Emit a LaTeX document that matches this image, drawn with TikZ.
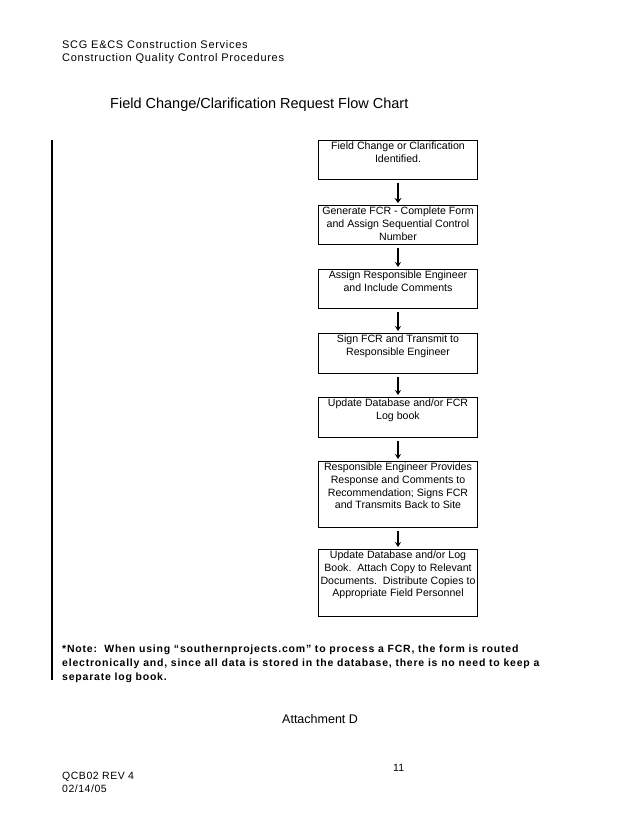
\documentclass[tikz,border=0pt]{standalone}
\usepackage{fontspec}
\setmainfont{Liberation Sans}
\usetikzlibrary{arrows.meta}
\tikzset{
  flowbox/.style={draw, line width=1pt, inner sep=0pt, anchor=north west, font=\fontsize{10.6}{12.8}\selectfont},
  txt/.style={anchor=base west, inner sep=0pt},
  headfont/.style={font=\fontsize{11}{13}\selectfont\addfontfeatures{LetterSpace=6.5}},
  notefont/.style={font=\fontsize{10.5}{14}\selectfont\bfseries\addfontfeatures{LetterSpace=7.5}},
  footfont/.style={font=\fontsize{10.5}{13}\selectfont\addfontfeatures{LetterSpace=5}},
  flowarrow/.style={line width=1.8pt, -{Stealth[length=5pt,width=6pt]}, shorten <=3pt, shorten >=2pt},
  thickarrow/.style={line width=2.6pt, -{Stealth[length=5pt,width=7pt]}, shorten <=3pt, shorten >=2pt}
}
\newcommand{\boxtext}[2]{\parbox[c][#1][t]{159pt}{\centering\strut #2}}
\begin{document}
\begin{tikzpicture}[x=1pt,y=-1pt]
\useasboundingbox (0,0) rectangle (638,826);
\fill[white] (0,0) rectangle (638,826);
% header
\node[txt, headfont] (h1) at (62,49) {SCG E\&CS Construction Services};
\node[txt, headfont] (h2) at (62,62) {Construction Quality Control Procedures};
\node[txt, font=\fontsize{14.5}{17}\selectfont] (title) at (110,109) {Field Change/Clarification Request Flow Chart};
% boxes
\node[flowbox] (b1) at (318,140) {\boxtext{39pt}{Field Change or Clarification\\Identified.}};
\node[flowbox] (b2) at (318,205) {\boxtext{39pt}{Generate FCR - Complete Form\\and Assign Sequential Control\\Number}};
\node[flowbox] (b3) at (318,269) {\boxtext{39pt}{Assign Responsible Engineer\\and Include Comments}};
\node[flowbox] (b4) at (318,333) {\boxtext{40pt}{Sign FCR and Transmit to\\Responsible Engineer}};
\node[flowbox] (b5) at (318,397) {\boxtext{40pt}{Update Database and/or FCR\\Log book}};
\node[flowbox] (b6) at (318,461) {\boxtext{66pt}{Responsible Engineer Provides\\Response and Comments to\\Recommendation; Signs FCR\\and Transmits Back to Site}};
\node[flowbox] (b7) at (318,549) {\boxtext{67pt}{Update Database and/or Log\\Book.\ \ Attach Copy to Relevant\\Documents.\ \ Distribute Copies to\\Appropriate Field Personnel}};
% arrows
\draw[thickarrow] (b1.south) -- (b2.north);
\draw[flowarrow] (b2.south) -- (b3.north);
\draw[flowarrow] (b3.south) -- (b4.north);
\draw[flowarrow] (b4.south) -- (b5.north);
\draw[flowarrow] (b5.south) -- (b6.north);
\draw[flowarrow] (b6.south) -- (b7.north);
% change bar
\coordinate (bar1) at (52,140);
\coordinate (bar2) at (52,680);
\draw[line width=1.4pt] (bar1) -- (bar2);
% note
\node[txt, notefont] (n1) at (62,652) {*Note:\ \ When using “southernprojects.com” to process a FCR, the form is routed};
\node[txt, notefont] (n2) at (62,666) {electronically and, since all data is stored in the database, there is no need to keep a};
\node[txt, notefont] (n3) at (62,680) {separate log book.};
% footer
\node[txt, font=\fontsize{12.5}{15}\selectfont] (att) at (282,723) {Attachment D};
\node[txt, font=\fontsize{10.5}{13}\selectfont] (pg) at (393,771) {11};
\node[txt, footfont] (f1) at (62,779) {QCB02 REV 4};
\node[txt, footfont] (f2) at (62,792) {02/14/05};
\end{tikzpicture}
\end{document}
